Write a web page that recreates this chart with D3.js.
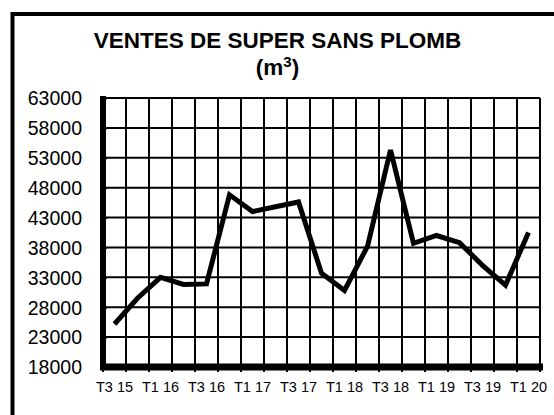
<!DOCTYPE html>
<html>
<head>
<meta charset="utf-8">
<script src="https://cdn.jsdelivr.net/npm/d3@7"></script>
<style>
html,body{margin:0;padding:0;background:#fff;}
svg{display:block;}
text{font-family:"Liberation Sans",Arial,sans-serif;fill:#000;}
</style>
</head>
<body>
<svg id="chart" width="554" height="415"></svg>
<script>
const categories = ["T3 15","T4 15","T1 16","T2 16","T3 16","T4 16","T1 17","T2 17","T3 17","T4 17","T1 18","T2 18","T3 18","T4 18","T1 19","T2 19","T3 19","T4 19","T1 20"];
const ventes = [25200,29500,33000,31800,31900,46800,44000,44800,45600,33700,30800,38200,54300,38700,40000,38800,35000,31700,40500];
const shownLabels = ["T3 15","T1 16","T3 16","T1 17","T3 17","T1 18","T3 18","T1 19","T3 19","T1 20"];
const yTicks = [18000,23000,28000,33000,38000,43000,48000,53000,58000,63000];
const titleLines = ["VENTES DE SUPER SANS PLOMB"];

const svg = d3.select("#chart");
const pLeft = 103, pRight = 540, pTop = 98, pBottom = 367;

const x = d3.scaleBand().domain(categories).range([pLeft, pRight]).padding(0);
const y = d3.scaleLinear().domain([18000, 63000]).range([pBottom, pTop]);

// outer border
svg.append("rect").attr("x", 12.5).attr("y", 14).attr("width", 600).attr("height", 500)
  .attr("fill", "none").attr("stroke", "#000").attr("stroke-width", 4);

// title
svg.append("text").attr("x", 277.5).attr("y", 47.5).attr("text-anchor", "middle")
  .style("font-size", "22.5px").style("font-weight", "bold").text(titleLines[0]);
const t2 = svg.append("text").attr("x", 277.5).attr("y", 75).attr("text-anchor", "middle")
  .style("font-size", "22.5px").style("font-weight", "bold");
t2.append("tspan").text("(m");
t2.append("tspan").attr("dy", -8).style("font-size", "15px").text("3");
t2.append("tspan").attr("dy", 8).text(")");

// horizontal gridlines
svg.append("g").selectAll("line").data(yTicks).join("line")
  .attr("x1", pLeft).attr("x2", pRight)
  .attr("y1", d => y(d)).attr("y2", d => y(d))
  .attr("stroke", "#000").attr("stroke-width", 2);

// vertical gridlines at band boundaries
const bounds = categories.map(c => x(c)).concat([x(categories[categories.length-1]) + x.bandwidth()]);
svg.append("g").selectAll("line").data(bounds).join("line")
  .attr("x1", d => d).attr("x2", d => d)
  .attr("y1", pTop).attr("y2", pBottom)
  .attr("stroke", "#000").attr("stroke-width", 2);

// y axis
const yAxis = d3.axisLeft(y).tickValues(yTicks).tickSize(3).tickPadding(18).tickFormat(d3.format("d"));
const gy = svg.append("g").attr("transform", `translate(${pLeft},0)`).call(yAxis);
gy.select(".domain").attr("stroke", "#000").attr("stroke-width", 6).attr("d", `M0,${pTop - 2}V${pBottom + 2}`);
gy.selectAll(".tick line").attr("stroke", "#000").attr("stroke-width", 2).attr("x1", 4);
gy.selectAll(".tick text").style("font-size", "19.5px").attr("dy", "0.35em")
  .style("font-family", "'Liberation Sans',Arial,sans-serif");

// x axis
const xAxis = d3.axisBottom(x).tickValues(categories).tickSize(0).tickPadding(15)
  .tickFormat(d => shownLabels.includes(d) ? d : "");
const gx = svg.append("g").attr("transform", `translate(0,${pBottom})`).call(xAxis);
gx.select(".domain").attr("stroke", "#000").attr("stroke-width", 7).attr("d", `M${pLeft - 3},0H${pRight + 3}`);
gx.selectAll(".tick text").style("font-size", "14.5px")
  .style("font-family", "'Liberation Sans',Arial,sans-serif");
svg.append("g").selectAll("line").data(bounds).join("line")
  .attr("x1", d => d).attr("x2", d => d).attr("y1", pBottom).attr("y2", pBottom + 5)
  .attr("stroke", "#000").attr("stroke-width", 2);

// series line
const line = d3.line().x((d, i) => x(categories[i]) + x.bandwidth() / 2).y(d => y(d));
svg.append("path").datum(ventes).attr("d", line)
  .attr("fill", "none").attr("stroke", "#000").attr("stroke-width", 5)
  .attr("stroke-linejoin", "miter").attr("stroke-linecap", "butt");
</script>
</body>
</html>
